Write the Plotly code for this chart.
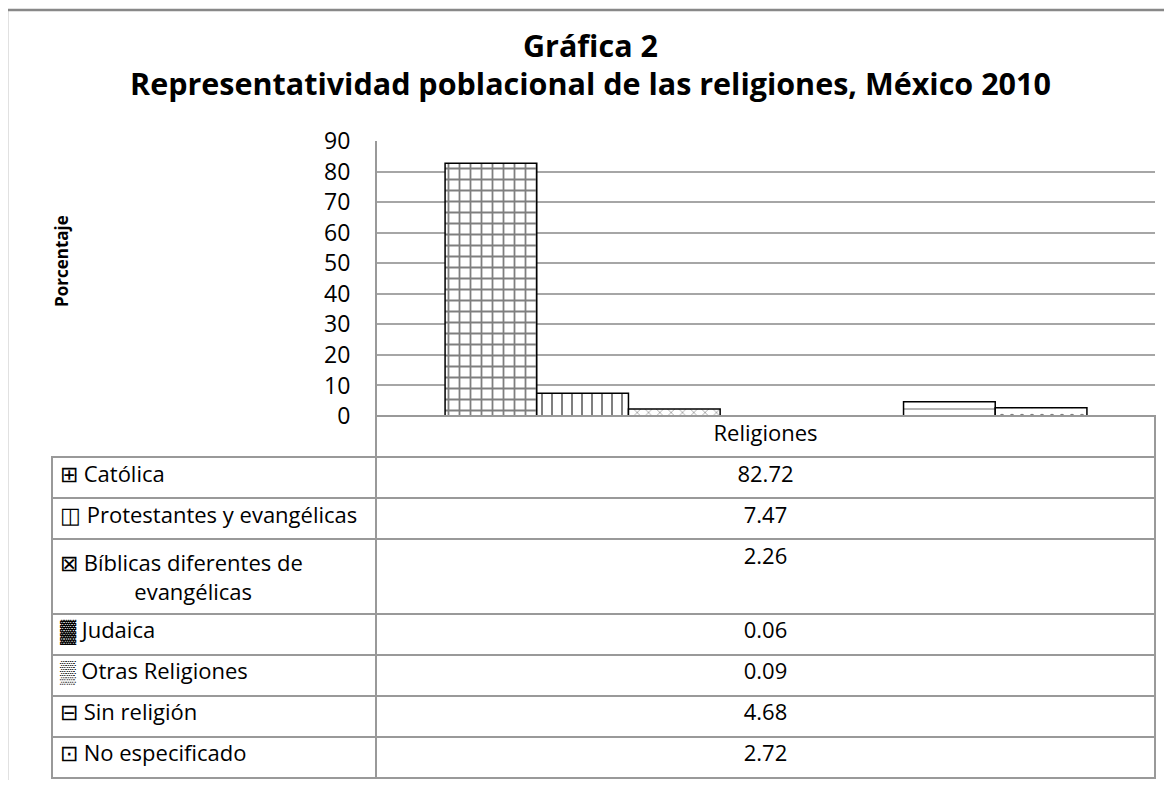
import plotly.graph_objects as go

categories = ["Religiones"]
series_names = ["Católica", "Protestantes y evangélicas", "Bíblicas diferentes de<br>\u00a0\u00a0\u00a0\u00a0\u00a0\u00a0\u00a0\u00a0\u00a0\u00a0\u00a0\u00a0\u00a0evangélicas",
                "Judaica", "Otras Religiones", "Sin religión", "No especificado"]
legend_icons = ["⊞", "◫", "⊠", "▓", "▒", "⊟", "⊡"]
values = [82.72, 7.47, 2.26, 0.06, 0.09, 4.68, 2.72]
value_labels = ["82.72", "7.47", "2.26", "0.06", "0.09", "4.68", "2.72"]
y_ticks = [0, 10, 20, 30, 40, 50, 60, 70, 80, 90]

title_line1 = "Gráfica 2"
title_line2 = "Representatividad poblacional de las religiones, México 2010"
y_title = "Porcentaje"

styles = [
    dict(color="white", pattern=dict(shape="+", fgcolor="black", bgcolor="white", size=11, solidity=0.3)),
    dict(color="white", pattern=dict(shape="|", fgcolor="black", bgcolor="white", size=10, solidity=0.2)),
    dict(color="white", pattern=dict(shape="x", fgcolor="black", bgcolor="white", size=8, solidity=0.15)),
    dict(color="#404040"),
    dict(color="#808080"),
    dict(color="white", pattern=dict(shape="-", fgcolor="black", bgcolor="white", size=8, solidity=0.15)),
    dict(color="white", pattern=dict(shape=".", fgcolor="black", bgcolor="white", size=10, solidity=0.15)),
]

FONT = "Open Sans"
WIN_W, WIN_H = 1172, 788
OFF = 8  # default page body margin
W, H = WIN_W - 2 * OFF, WIN_H - 2 * OFF


def fx(px):
    return (px - OFF) / W


def fy(py):
    return 1 - (py - OFF) / H


fig = go.Figure()
for name, v, st in zip(series_names, values, styles):
    fig.add_trace(go.Bar(
        x=categories, y=[v], name=name.replace("<br>", " "),
        marker=dict(line=dict(color="black", width=1.5), **st),
        showlegend=False, hoverinfo="y",
    ))

px_l, px_r = 377, 1155
py_top, py_bot = 141, 416
fig.update_layout(
    width=W, height=H, margin=dict(l=0, r=0, t=0, b=0, autoexpand=False),
    paper_bgcolor="white", plot_bgcolor="white",
    barmode="group", bargap=0.175, bargroupgap=0,
    font=dict(family=FONT, size=19, color="black"),
    xaxis=dict(domain=[fx(px_l), fx(px_r)], showticklabels=False, showline=True, automargin=False,
               linecolor="#999999", linewidth=2, ticks="", showgrid=False),
    yaxis=dict(domain=[fy(py_bot), fy(py_top)], range=[0, 90], tickvals=y_ticks, automargin=False,
               showline=True, linecolor="#999999", linewidth=2, showgrid=True,
               gridcolor="#a6a6a6", gridwidth=1.5, zeroline=False, ticks="",
               ticklabelstandoff=20, tickfont=dict(size=23)),
)

TFS = 22
col1 = [f"{ic} {n}" for ic, n in zip(legend_icons, series_names)]
fig.add_trace(go.Table(
    domain=dict(x=[fx(52), fx(px_r)], y=[0, fy(py_bot)]),
    columnwidth=[324, 779],
    header=dict(values=["", categories[0]], height=41,
                line=dict(color=["rgba(0,0,0,0)", "#999999"], width=2),
                fill=dict(color=["rgba(0,0,0,0)", "white"]), align=["left", "center"],
                font=dict(family=FONT, size=TFS, color="black")),
    cells=dict(values=[col1, value_labels], height=41,
               line=dict(color="#999999", width=2), fill=dict(color="white"),
               align=["left", "center"], font=dict(family=FONT, size=TFS, color="black")),
))

fig.add_annotation(text=f"<b>{title_line1}</b>", x=fx(590), y=fy(45), xref="paper", yref="paper",
                   xanchor="center", yanchor="middle",
                   showarrow=False, font=dict(family=FONT, size=30.5))
fig.add_annotation(text=f"<b>{title_line2}</b>", x=fx(590), y=fy(83), xref="paper", yref="paper",
                   xanchor="center", yanchor="middle",
                   showarrow=False, font=dict(family=FONT, size=30.5))
fig.add_annotation(text=f"<b>{y_title}</b>", x=fx(61), y=fy(261), xref="paper", yref="paper",
                   xanchor="center", yanchor="middle",
                   showarrow=False, textangle=-90, font=dict(family=FONT, size=17))

fig.add_shape(type="rect", xref="paper", yref="paper", x0=fx(7), x1=1.02, y0=-0.02, y1=fy(10),
              line=dict(color="#888888", width=2.5))

fig.write_html("out.html")
